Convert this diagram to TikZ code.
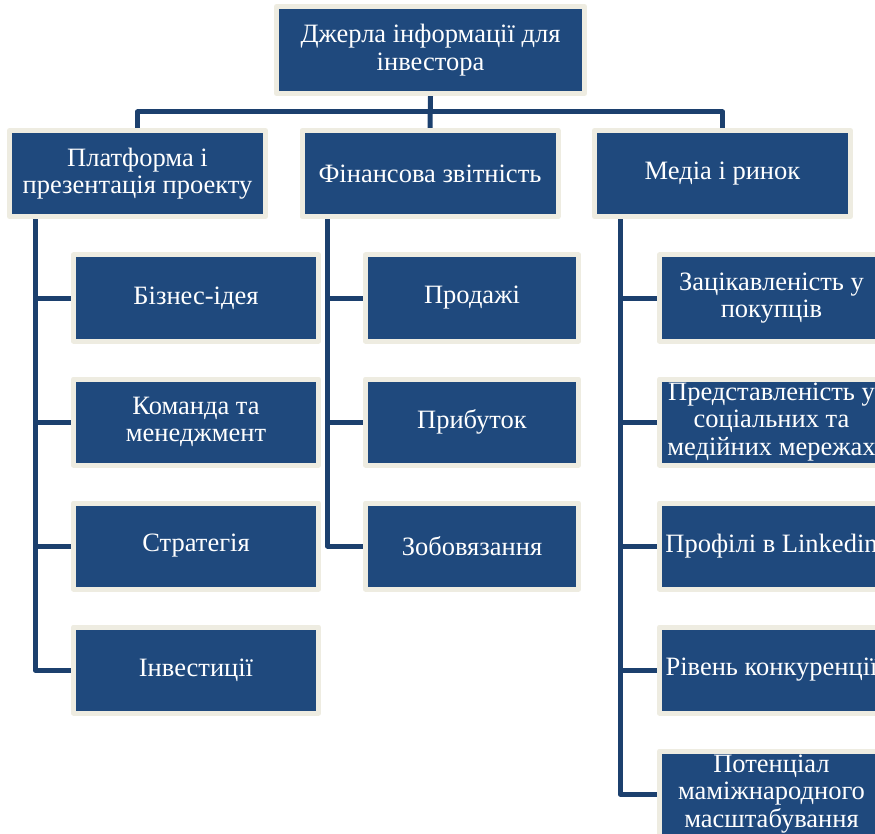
\documentclass[tikz,border=0pt]{standalone}
\usepackage{fontspec}
\setmainfont{Liberation Serif}
\usetikzlibrary{backgrounds}
\definecolor{boxblue}{HTML}{1F497D}
\definecolor{boxrim}{HTML}{EEECE1}
\definecolor{linkblue}{HTML}{1C406E}
\newcommand\shyroke[1]{\makebox[0pt]{#1}}
\tikzset{
  blok/.style={draw=boxrim, line width=5pt, line join=round, fill=boxblue, text=white,
    align=center, inner sep=0pt, minimum height=86pt,
    font=\fontsize{26.5}{27.5}\selectfont},
  rootblok/.style={blok, minimum width=308pt, minimum height=87pt},
  rivenblok/.style={blok, minimum width=256pt},
  platblok/.style={blok, minimum width=245pt},
  finblok/.style={blok, minimum width=213pt},
  mediablok/.style={blok, minimum width=224pt},
  link/.style={draw=linkblue, line width=5pt, line join=round}
}
\begin{document}
\begin{tikzpicture}[x=1pt, y=-1pt]
	\useasboundingbox (0,0) rectangle (875,834);
	\clip (0,0) rectangle (875,834);
	% top level
	\node[rootblok] (root) at (430.5,50) {Джерла інформації для\\інвестора};
	\node[rivenblok] (plat) at (137.5,173.5) {Платформа і\\презентація проекту};
	\node[rivenblok] (fin) at (430,173.5) {Фінансова звітність};
	\node[rivenblok] (media) at (722.5,173.5) {Медіа і ринок};
	% children
	\foreach \t [count=\i] in {Бізнес-ідея, {Команда та\\менеджмент}, Стратегія, Інвестиції}
		\node[platblok] (p\i) at (196,174+124*\i) {\t};
	\foreach \t [count=\i] in {Продажі, Прибуток, Зобовязання}
		\node[finblok] (f\i) at (472,174+124*\i) {\t};
	\foreach \t [count=\i] in {{Зацікавленість у\\покупців}, {\shyroke{Представленість у}\\соціальних та\\медійних мережах}, {\shyroke{Профілі в Linkedin}}, {\shyroke{Рівень конкуренції}}, {Потенціал\\маміжнародного\\масштабування}}
		\node[mediablok] (m\i) at (771.5,174+124*\i) {\t};
	\begin{scope}[on background layer]
		\draw[link] (root.south) -- (fin.north);
		\draw[link] (plat.north) -- ++(0,-16) -| (media.north);
		\coordinate (pspine) at ([xshift=28pt]plat.south west);
		\coordinate (fspine) at ([xshift=28pt]fin.south west);
		\coordinate (mspine) at ([xshift=28pt]media.south west);
		\draw[link] (pspine) |- (p4.west);
		\foreach \i in {1,2,3} \draw[link] (pspine |- p\i.west) -- (p\i.west);
		\draw[link] (fspine) |- (f3.west);
		\foreach \i in {1,2} \draw[link] (fspine |- f\i.west) -- (f\i.west);
		\draw[link] (mspine) |- (m5.west);
		\foreach \i in {1,2,3,4} \draw[link] (mspine |- m\i.west) -- (m\i.west);
	\end{scope}
\end{tikzpicture}
\end{document}
